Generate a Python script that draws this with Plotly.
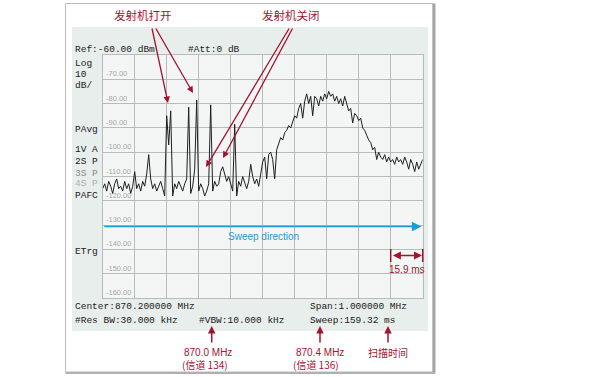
import numpy as np
import plotly.graph_objects as go

# ---------------- data ----------------
center_mhz = 870.2
span_mhz = 1.0
n_points = 161
start_mhz = center_mhz - span_mhz / 2
stop_mhz = center_mhz + span_mhz / 2
freq_mhz = np.linspace(start_mhz, stop_mhz, n_points)

amp_dbm = [
    -115, -113, -116, -112, -114, -117, -113, -111, -115, -114,
    -116, -112, -115, -113, -117, -114, -108, -115, -113, -116,
    -112, -114, -109, -101, -111, -115, -113, -116, -114, -112,
    -115, -118, -85, -97, -83, -118, -113, -115, -112, -114,
    -116, -113, -111, -81.5, -117, -114, -107, -78.5, -116, -113,
    -115, -118, -116, -113, -80.5, -116, -112, -114, -113, -108,
    -106, -109, -112, -110, -113, -116, -88.5, -118, -112, -114,
    -110, -113, -115, -112, -105, -110, -113, -111, -114, -109,
    -104, -102, -111, -101, -100, -103, -111, -99, -96, -94,
    -95, -92, -91, -89, -90, -87, -85, -86, -82, -80,
    -86, -79, -76, -80, -77, -85, -77, -78, -81, -77,
    -79, -76, -78, -75, -77, -76, -79, -77, -80, -78,
    -81, -77, -80, -83, -82, -88, -84, -85, -87, -86,
    -90, -91, -93, -95, -96, -99, -98, -103, -100, -102,
    -103, -101, -104, -102, -104, -103, -105, -102, -104, -103,
    -105, -102, -104, -107, -103, -105, -108, -104, -107, -105,
    -103,
]

ref_level = -60
y_bottom = -160
y_tick_values = [-70, -80, -90, -100, -110, -120, -130, -140, -150, -160]
y_tick_labels = ["-70.00", "-80.00", "-90.00", "-100.00", "-110.00",
                 "-120.00", "-130.00", "-140.00", "-150.00", "-160.00"]

header_left = "Ref:-60.00 dBm"
header_att = "#Att:0 dB"
side_labels = ["Log", "10", "dB/", "PAvg", "1V A", "2S P", "3S P", "4S P", "PAFC", "ETrg"]
footer_center = "Center:870.200000 MHz"
footer_rbw = "#Res BW:30.000 kHz"
footer_vbw = "#VBW:10.000 kHz"
footer_span = "Span:1.000000 MHz"
footer_sweep = "Sweep:159.32 ms"

# ---------------- layout helpers ----------------
W, H = 600, 377


def px(x):
    return x / W


def py(y):
    return 1 - y / H


L, R, T, B = 102.7, 422.7, 55, 298
RED = "#a3132f"
BLUE = "#1b9bd7"
GRID = "#b7bcba"
MONO = "Liberation Mono"

fig = go.Figure()
fig.add_trace(go.Scatter(
    x=freq_mhz, y=amp_dbm, mode="lines",
    line=dict(color="#1e1e1e", width=1), hoverinfo="skip"))

shapes = []
# outer frame
shapes.append(dict(type="rect", xref="paper", yref="paper",
                   x0=px(65.5), x1=px(433), y0=py(372), y1=py(3.5),
                   line=dict(color="#bdbdbd", width=1), fillcolor="white", layer="below"))
shapes.append(dict(type="line", xref="paper", yref="paper",
                   x0=px(434), x1=px(434), y0=py(373), y1=py(3.5),
                   line=dict(color="#a5a5a5", width=3), layer="below"))
shapes.append(dict(type="line", xref="paper", yref="paper",
                   x0=px(65.5), x1=px(435), y0=py(373), y1=py(373),
                   line=dict(color="#b0b0b0", width=2), layer="below"))
# instrument panel
shapes.append(dict(type="rect", xref="paper", yref="paper",
                   x0=px(72), x1=px(428), y0=py(331), y1=py(27),
                   line=dict(width=0), fillcolor="#e8eeeb", layer="below"))
# graticule background
shapes.append(dict(type="rect", xref="paper", yref="paper",
                   x0=px(L), x1=px(R), y0=py(B), y1=py(T),
                   line=dict(width=0), fillcolor="#f3f6f5", layer="below"))
# 15.9 ms end ticks
for xx in (390.7, 422.7):
    shapes.append(dict(type="line", xref="paper", yref="paper",
                       x0=px(xx), x1=px(xx), y0=py(249), y1=py(262),
                       line=dict(color=RED, width=1.5)))

ann = []


def text(x, y, s, size=9.5, color="#1a1a1a", family=MONO, xanchor="left", yanchor="middle"):
    ann.append(dict(x=px(x), y=py(y), xref="paper", yref="paper", text=s,
                    showarrow=False, xanchor=xanchor, yanchor=yanchor,
                    font=dict(size=size, color=color, family=family)))


def arrow(hx, hy, tx, ty, color=RED, width=1.3, head=2, size=1.0, side="end"):
    ann.append(dict(x=px(hx), y=py(hy), xref="paper", yref="paper", text="",
                    showarrow=True, ax=tx - hx, ay=ty - hy, axref="pixel", ayref="pixel",
                    arrowcolor=color, arrowwidth=width, arrowhead=head, arrowsize=size,
                    arrowside=side, standoff=0, startstandoff=0))


# header / footer instrument text
text(72.5, 50, header_left)
text(186, 50, header_att)
side_y = [63, 74.5, 85.5, 129, 149.5, 161.5, 173, 184, 195.5, 251.5]
side_col = ["#1a1a1a"] * 6 + ["#8a8a8a", "#b0b0b0", "#1a1a1a", "#1a1a1a"]
for s, yy, c in zip(side_labels, side_y, side_col):
    text(72.5, yy, s, color=c)
text(72.5, 306.5, footer_center)
text(72.5, 320.5, footer_rbw)
text(197, 320.5, footer_vbw)
text(308, 306.5, footer_span)
text(308, 320.5, footer_sweep)

# graticule labels
for v, s in zip(y_tick_values, y_tick_labels):
    ann.append(dict(x=px(L + 1.5), y=v, xref="paper", yref="y", text=s,
                    showarrow=False, xanchor="left", yanchor="bottom", yshift=-1,
                    font=dict(size=7.5, color="#a3a7a5", family="Liberation Sans")))

# red callouts
CJK = "Noto Sans CJK SC"
text(143, 15, "发射机打开", size=11.5, color=RED, family=CJK, xanchor="center")
text(291, 15, "发射机关闭", size=11.5, color=RED, family=CJK, xanchor="center")
arrow(168, 103, 151.7, 27)
arrow(193, 93, 155, 27)
arrow(206, 167, 290, 27)
arrow(223, 158, 293.3, 27)

for xx in (211.7, 320, 388):
    arrow(xx, 326, xx, 344, width=1.5)
text(208, 352, "870.0 MHz", size=10, color=RED, family="Liberation Sans", xanchor="center")
text(205, 364, "(信道 134)", size=10, color=RED, family=CJK, xanchor="center")
text(320, 352, "870.4 MHz", size=10, color=RED, family="Liberation Sans", xanchor="center")
text(316, 364, "(信道 136)", size=10, color=RED, family=CJK, xanchor="center")
text(388, 352, "扫描时间", size=10, color=RED, family=CJK, xanchor="center")

# sweep direction
arrow(421.5, 226.5, L, 226.5, color=BLUE, width=1.6, head=2, size=1.2)
text(263, 236, "Sweep direction", size=10, color=BLUE, family="Liberation Sans", xanchor="center")

# 15.9 ms
arrow(422, 255.5, 391.4, 255.5, width=1.6, head=2, size=1.0, side="end+start")
text(406.5, 269, "15.9 ms", size=10, color=RED, family="Liberation Sans", xanchor="center")

axis_common = dict(showgrid=True, gridcolor=GRID, gridwidth=1.3, zeroline=False,
                   showline=True, linecolor=GRID, linewidth=1.3, mirror=True,
                   showticklabels=False, ticks="", fixedrange=True)

fig.update_layout(
    width=W, height=H, margin=dict(l=0, r=0, t=0, b=0),
    paper_bgcolor="white", plot_bgcolor="rgba(0,0,0,0)", showlegend=False,
    xaxis=dict(domain=[px(L), px(R)], range=[start_mhz, stop_mhz],
               tick0=start_mhz, dtick=span_mhz / 10, **axis_common),
    yaxis=dict(domain=[py(B), py(T)], range=[y_bottom, ref_level],
               tick0=y_bottom, dtick=10, **axis_common),
    shapes=shapes, annotations=ann,
)

fig.write_html("out.html", config={"displayModeBar": False},
               post_script="document.body.style.margin='0px';document.body.style.overflow='hidden';")
